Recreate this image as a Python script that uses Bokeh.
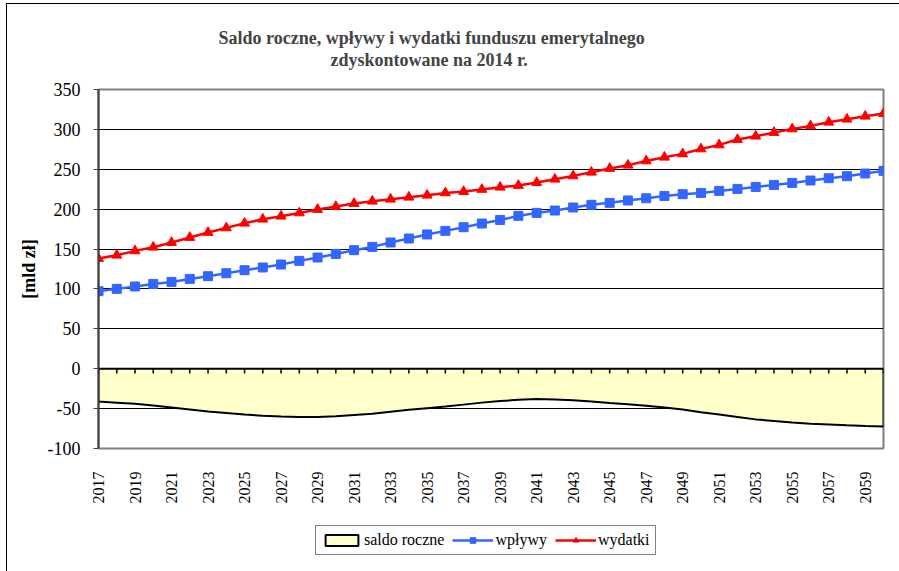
from bokeh.plotting import figure
from bokeh.models import Range1d, FixedTicker, Legend, LegendItem, Title
from bokeh.layouts import column
from bokeh.embed import file_html
from bokeh.resources import INLINE
from math import pi

years = list(range(2017, 2061))
saldo = [-41, -42.5, -44, -46, -48.5, -51, -53.5, -55.5, -57.5, -59,
         -60, -60.5, -60.4, -59.5, -58, -56.5, -54, -51.5, -49.5, -47.5,
         -45, -42.5, -40.5, -39, -38, -38.5, -39.5, -41, -43, -44.5,
         -46.5, -48.5, -51, -54.5, -57.5, -60.5, -63.5, -65.5, -67.5, -69,
         -70, -71, -71.8, -72.5]
wplywy = [97.2, 100.1, 103.1, 106.3, 108.8, 112.6, 116.0, 119.7, 123.5, 126.9,
          130.6, 135.2, 139.4, 143.9, 148.6, 152.7, 158.2, 163.2, 168.3, 172.8,
          177.4, 182.0, 186.5, 191.6, 195.3, 198.3, 202.1, 205.4, 207.9, 210.9,
          213.7, 216.6, 218.8, 220.4, 222.9, 225.4, 227.9, 230.4, 232.9, 235.9,
          238.8, 241.3, 244.7, 248.0]
wydatki = [138.2, 142.3, 147.7, 152.3, 158.2, 164.5, 170.8, 176.5, 182.4, 187.4,
           191.2, 195.3, 199.6, 203.3, 207.1, 210.0, 212.5, 215.0, 217.5, 220.4,
           222.1, 224.7, 227.5, 229.7, 233.4, 237.6, 241.7, 246.3, 251.0, 255.1,
           260.5, 265.1, 269.3, 275.5, 280.6, 287.3, 291.5, 296.1, 300.6, 304.4,
           309.0, 312.8, 316.5, 319.9]
y_ticks = [-100, -50, 0, 50, 100, 150, 200, 250, 300, 350]
x_ticks = list(range(2017, 2060, 2))
title_lines = ["Saldo roczne, wpływy i wydatki funduszu emerytalnego",
               "zdyskontowane na 2014 r."]
y_label = "[mld zł]"
series_names = ["saldo roczne", "wpływy", "wydatki"]

SERIF = "Liberation Serif"
BLUE = "#3366FF"
RED = "#FF0000"
AREA = "#FFFFCC"

p = figure(width=892, height=506, output_backend="svg", toolbar_location=None,
           x_range=Range1d(years[0], years[-1]), y_range=Range1d(y_ticks[0], y_ticks[-1]),
           min_border_left=91, min_border_right=16, min_border_top=85, min_border_bottom=62)
p.background_fill_color = "white"
p.border_fill_color = "white"
p.outline_line_color = "#808080"
p.outline_line_width = 2

# title: two lines (spacer nearest the frame, then line 2, then line 1)
spacer = Title(text=" ", text_font_size="1px", standoff=17)
p.add_layout(spacer, "above")
t2 = Title(text=title_lines[1], align="left", offset=232, text_font=SERIF,
           text_font_style="bold", text_font_size="18px", standoff=0)
p.add_layout(t2, "above")
p.title.text = title_lines[0]
p.title.align = "left"
p.title.offset = 120
p.title.text_font = SERIF
p.title.text_font_style = "bold"
p.title.text_font_size = "18px"
p.title.standoff = 0

# grid
p.xgrid.visible = False
p.ygrid.ticker = FixedTicker(ticks=y_ticks)
p.ygrid.grid_line_color = "black"
p.ygrid.grid_line_width = 1

# y axis
p.yaxis.ticker = FixedTicker(ticks=y_ticks)
p.yaxis.major_label_overrides = {v: str(v) for v in y_ticks}
p.yaxis.axis_line_color = "#404040"
p.yaxis.axis_line_width = 2
p.yaxis.major_tick_line_color = "#404040"
p.yaxis.major_tick_out = 5
p.yaxis.major_tick_in = 0
p.yaxis.minor_tick_line_color = None
p.yaxis.major_label_text_font = SERIF
p.yaxis.major_label_text_font_size = "18px"
p.yaxis.major_label_text_color = "black"
p.yaxis.major_label_standoff = 13
p.yaxis.axis_label = y_label
p.yaxis.axis_label_text_font = SERIF
p.yaxis.axis_label_text_font_style = "bold"
p.yaxis.axis_label_text_font_size = "18px"
p.yaxis.axis_label_text_color = "black"
p.yaxis.axis_label_standoff = 6

# x axis (labels at bottom)
p.xaxis.ticker = FixedTicker(ticks=x_ticks)
p.xaxis.axis_line_color = None
p.xaxis.major_tick_line_color = None
p.xaxis.minor_tick_line_color = None
p.xaxis.major_label_orientation = pi / 2
p.xaxis.major_label_text_font = SERIF
p.xaxis.major_label_text_font_size = "16px"
p.xaxis.major_label_text_color = "black"
p.xaxis.major_label_standoff = 17

# saldo area
xs = [years[0]] + years + [years[-1]]
ys = [0] + saldo + [0]
p.patch(xs, ys, fill_color=AREA, line_color="black", line_width=2)

# category ticks on zero line
p.segment(x0=years, y0=[0] * len(years), x1=years, y1=[-6] * len(years),
          line_color="black", line_width=1.5)

p.line(years, wplywy, line_color=BLUE, line_width=2.5)
p.scatter(years, wplywy, marker="square", size=9, color=BLUE)
p.line(years, wydatki, line_color=RED, line_width=2.5)
p.scatter(years, wydatki, marker="triangle", size=10, color=RED)

# legend strip below the chart (frame aligned with the chart's frame)
q = figure(width=892, height=61, output_backend="svg", toolbar_location=None,
           x_range=Range1d(0, 1), y_range=Range1d(0, 1),
           x_axis_type=None, y_axis_type=None,
           min_border_left=91, min_border_right=16, min_border_top=0, min_border_bottom=0)
q.xgrid.visible = False
q.ygrid.visible = False
q.outline_line_color = None
q.background_fill_color = "white"
q.border_fill_color = "white"

# same series in the legend strip, outside its visible ranges (only swatches show)
qa = q.patch(xs, ys, fill_color=AREA, line_color="black", line_width=2)
qwl = q.line(years, wplywy, line_color=BLUE, line_width=2.5)
qws = q.scatter(years, wplywy, marker="square", color=BLUE)
qdl = q.line(years, wydatki, line_color=RED, line_width=2.5)
qds = q.scatter(years, wydatki, marker="triangle", color=RED)

leg = Legend(items=[LegendItem(label=series_names[0], renderers=[qa]),
                    LegendItem(label=series_names[1], renderers=[qwl, qws]),
                    LegendItem(label=series_names[2], renderers=[qdl, qds])],
             orientation="horizontal", location=(217, 16),
             border_line_color="black", border_line_width=1,
             background_fill_color="white", background_fill_alpha=1,
             label_text_font=SERIF, label_text_font_size="16px",
             label_text_color="black", padding=5, margin=0, label_height=18,
             glyph_width=41, glyph_height=14, label_standoff=2, spacing=8)
q.add_layout(leg)

layout = column(p, q, spacing=0)
layout.styles = {"margin-left": "6px", "margin-top": "3px",
                 "border-left-style": "solid", "border-left-width": "1px",
                 "border-left-color": "black",
                 "border-top-style": "solid", "border-top-width": "1px",
                 "border-top-color": "black",
                 "border-right-style": "none", "border-bottom-style": "none"}
open("out.html", "w").write(file_html(layout, INLINE))
